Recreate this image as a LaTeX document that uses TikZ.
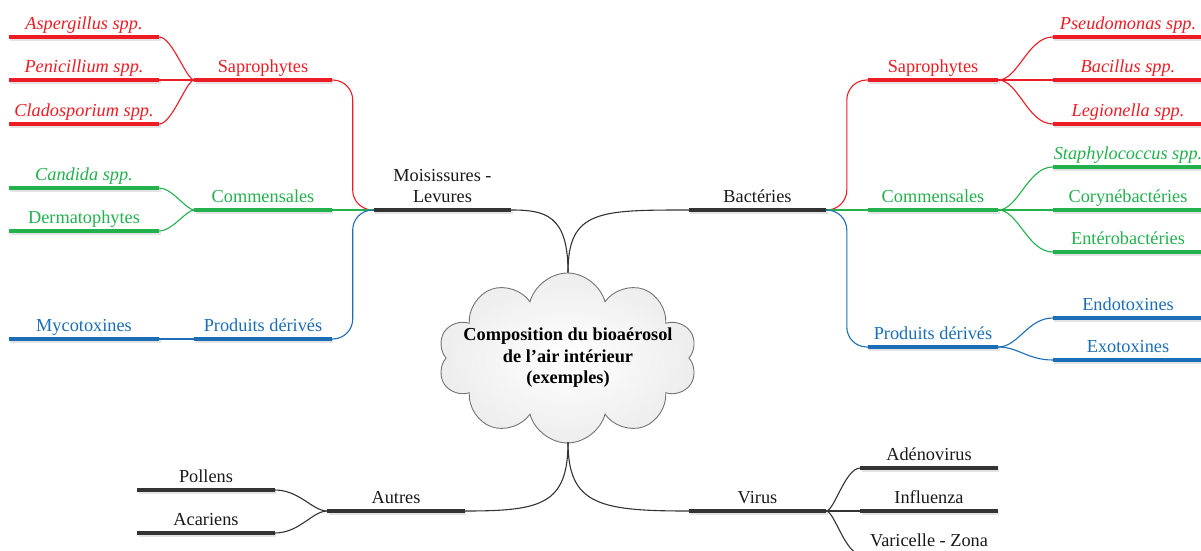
\documentclass[tikz,border=0pt]{standalone}
\usepackage{fontspec}
\setmainfont{Liberation Serif}
\usetikzlibrary{shapes.symbols,backgrounds,calc}
\definecolor{mred}{HTML}{ED1C24}
\definecolor{mgreen}{HTML}{22B14C}
\definecolor{mblue}{HTML}{1B6DB6}
\definecolor{mdark}{HTML}{333333}
\newcommand\mfont{\fontsize{18.3}{21.5}\selectfont}
\begin{document}
\begin{tikzpicture}[x=1pt,y=-1pt,
  item/.style={anchor=south, inner xsep=0pt, inner ysep=3pt, text height=12.5pt, text depth=4pt, font=\mfont},
  itl/.style={font=\mfont\itshape},
  wl/.style={minimum width=150pt},
  wm/.style={minimum width=137pt},
  wr/.style={minimum width=130pt},
  conn/.style={line width=1.1pt},
  barline/.style={line width=4.2pt},
  shadowline/.style={line width=3.5pt, draw=black!11},
  tred/.style={text=mred}, tgreen/.style={text=mgreen}, tblue/.style={text=mblue}, tdark/.style={text=black!90},
  cloudbox/.style={cloud, cloud puffs=10, aspect=1.52, minimum width=259pt, minimum height=170pt,
    draw=black!55, line width=0.9pt, inner color=white, outer color=black!7}
]
\useasboundingbox (0,0) rectangle (1201,551);
\clip (0,0) rectangle (1201,551);

% centre
\node[cloudbox] (c) at (567.5,358) {};
\node[font=\mfont\bfseries, align=center, text=black] (ctext) at (568,358) {Composition du bioaérosol\\de l’air intérieur\\(exemples)};
\coordinate (ctop) at (568,272);
\coordinate (cbot) at (568,442);

% main branches
\node[item,wm,tdark,text depth=0pt,text height=,inner ysep=7pt,align=center] (moi) at (442.5,210) {Moisissures -\\Levures};
\node[item,wm,tdark] (bac) at (757.5,210) {Bactéries};
\node[item,wm,tdark] (aut) at (396,511) {Autres};
\node[item,wm,tdark] (vir) at (757.5,511) {Virus};

% left level 2
\node[item,wm,tred] (lsap) at (263,80) {Saprophytes};
\node[item,wm,tgreen] (lcom) at (263,210) {Commensales};
\node[item,wm,tblue] (lprod) at (263,339) {Produits dérivés};

% left leaves
\node[item,wl,tred,itl] (asp) at (84,37) {Aspergillus spp.};
\node[item,wl,tred,itl] (pen) at (84,80) {Penicillium spp.};
\node[item,wl,tred,itl] (cla) at (84,124) {Cladosporium spp.};
\node[item,wl,tgreen,itl] (can) at (84,188) {Candida spp.};
\node[item,wl,tgreen] (der) at (84,231) {Dermatophytes};
\node[item,wl,tblue] (myc) at (84,339) {Mycotoxines};

% right level 2
\node[item,wr,tred] (rsap) at (933,80) {Saprophytes};
\node[item,wr,tgreen] (rcom) at (933,210) {Commensales};
\node[item,wr,tblue] (rprod) at (933,347) {Produits dérivés};

% right leaves
\node[item,wl,tred,itl] (pse) at (1128,37) {Pseudomonas spp.};
\node[item,wl,tred,itl] (bacil) at (1128,80) {Bacillus spp.};
\node[item,wl,tred,itl] (leg) at (1128,124) {Legionella spp.};
\node[item,wl,tgreen,itl] (sta) at (1128,167) {Staphylococcus spp.};
\node[item,wl,tgreen] (cor) at (1128,210) {Corynébactéries};
\node[item,wl,tgreen] (ent) at (1128,252) {Entérobactéries};
\node[item,wl,tblue] (endo) at (1128,318) {Endotoxines};
\node[item,wl,tblue] (exo) at (1128,360) {Exotoxines};

% bottom
\node[item,wm,tdark] (pol) at (206,490) {Pollens};
\node[item,wm,tdark] (aca) at (206,533) {Acariens};
\node[item,wm,tdark] (ade) at (929,468) {Adénovirus};
\node[item,wm,tdark] (inf) at (929,511) {Influenza};
\node[item,wm,tdark] (var) at (929,554) {Varicelle - Zona};

% bars
\foreach \n/\col in {moi/mdark,bac/mdark,aut/mdark,vir/mdark,
  lsap/mred,lcom/mgreen,lprod/mblue,asp/mred,pen/mred,cla/mred,can/mgreen,der/mgreen,myc/mblue,
  rsap/mred,rcom/mgreen,rprod/mblue,pse/mred,bacil/mred,leg/mred,sta/mgreen,cor/mgreen,ent/mgreen,endo/mblue,exo/mblue,
  pol/mdark,aca/mdark,ade/mdark,inf/mdark,var/mdark}{
  \draw[shadowline] ([shift={(1.5,2)}]\n.south west) -- ([shift={(1.5,2)}]\n.south east);
  \draw[barline,draw=\col] (\n.south west) -- (\n.south east);
}

% connectors
\begin{scope}[on background layer]
\draw[conn,mdark] (c.center) -- (ctop);
\draw[conn,mdark] (c.center) -- (cbot);
\end{scope}
\draw[conn,mdark] (ctop) .. controls +(0,-57) and +(34,0) .. (moi.south east);
\draw[conn,mdark] (ctop) .. controls +(0,-62) and +(-89,0) .. (bac.south west);
\draw[conn,mdark] (cbot) .. controls +(0,63) and +(76,0) .. (aut.south east);
\draw[conn,mdark] (cbot) .. controls +(0,63) and +(-89,0) .. (vir.south west);

\draw[conn,mred,rounded corners=20pt] (moi.south west) -| ($(lsap.south east)+(21,0)$) -- (lsap.south east);
\draw[conn,mgreen] (moi.south west) -- (lcom.south east);
\draw[conn,mblue,rounded corners=20pt] (moi.south west) -| ($(lprod.south east)+(21,0)$) -- (lprod.south east);

\draw[conn,mred,rounded corners=20pt] (bac.south east) -| ($(rsap.south west)+(-21,0)$) -- (rsap.south west);
\draw[conn,mgreen] (bac.south east) -- (rcom.south west);
\draw[conn,mblue,rounded corners=20pt] (bac.south east) -| ($(rprod.south west)+(-21,0)$) -- (rprod.south west);

\draw[conn,mred] (lsap.south west) .. controls +(-8,0) and +(13,0) .. (asp.south east);
\draw[conn,mred] (lsap.south west) -- (pen.south east);
\draw[conn,mred] (lsap.south west) .. controls +(-8,0) and +(13,0) .. (cla.south east);
\draw[conn,mgreen] (lcom.south west) .. controls +(-8,0) and +(13,0) .. (can.south east);
\draw[conn,mgreen] (lcom.south west) .. controls +(-8,0) and +(13,0) .. (der.south east);
\draw[conn,mblue] (lprod.south west) -- (myc.south east);

\draw[conn,mred] (rsap.south east) .. controls +(20,0) and +(-25,0) .. (pse.south west);
\draw[conn,mred] (rsap.south east) -- (bacil.south west);
\draw[conn,mred] (rsap.south east) .. controls +(20,0) and +(-25,0) .. (leg.south west);
\draw[conn,mgreen] (rcom.south east) .. controls +(20,0) and +(-25,0) .. (sta.south west);
\draw[conn,mgreen] (rcom.south east) -- (cor.south west);
\draw[conn,mgreen] (rcom.south east) .. controls +(20,0) and +(-25,0) .. (ent.south west);
\draw[conn,mblue] (rprod.south east) .. controls +(20,0) and +(-25,0) .. (endo.south west);
\draw[conn,mblue] (rprod.south east) .. controls +(20,0) and +(-25,0) .. (exo.south west);

\draw[conn,mdark] (aut.south west) .. controls +(-15,0) and +(25,0) .. (pol.south east);
\draw[conn,mdark] (aut.south west) .. controls +(-15,0) and +(25,0) .. (aca.south east);
\draw[conn,mdark] (vir.south east) .. controls +(8,0) and +(-15,0) .. (ade.south west);
\draw[conn,mdark] (vir.south east) -- (inf.south west);
\draw[conn,mdark] (vir.south east) .. controls +(8,0) and +(-15,0) .. (var.south west);
\end{tikzpicture}
\end{document}
